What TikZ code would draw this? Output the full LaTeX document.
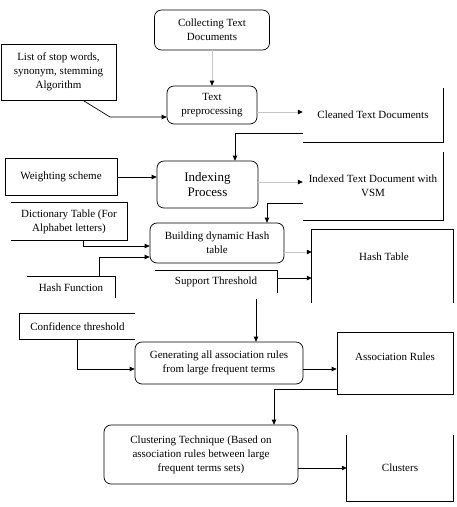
\documentclass[tikz,border=0pt]{standalone}
\usepackage{fontspec}
\setmainfont{Liberation Serif}
\usetikzlibrary{arrows.meta}
\begin{document}
\begin{tikzpicture}[x=1pt,y=-1pt,
  every node/.style={font=\fontsize{11}{14}\selectfont, inner sep=0pt, align=center},
  rbox/.style={draw, rounded corners=7pt, line width=0.7pt},
  sbox/.style={draw, line width=0.7pt},
  open/.style={},
  edge/.style={line width=0.7pt},
  arr/.style={-{Triangle[length=5pt,width=4.5pt]}, line width=0.7pt},
  garr/.style={-{Triangle[length=5pt,width=4.5pt,color=black]}, line width=0.7pt, draw=gray!45}]
\useasboundingbox (0,0) rectangle (457,507);

% boxes
\node[rbox, minimum width=115, minimum height=40] (collect) at (212,30) {Collecting Text\\Documents};
\node[sbox, minimum width=115, minimum height=56] (stop) at (58.5,72) {List of stop words,\\synonym, stemming\\Algorithm};
\node[rbox, minimum width=90, minimum height=38] (prep) at (212,105) {Text\\preprocessing};
\node[open, minimum width=140, minimum height=54] (clean) at (373,115) {Cleaned Text Documents};
\node[sbox, minimum width=112, minimum height=37] (weight) at (61,176.5) {Weighting scheme};
\node[rbox, minimum width=101, minimum height=47, font=\fontsize{13}{15}\selectfont] (index) at (207.5,184.5) {Indexing\\Process};
\node[open, minimum width=140, minimum height=68] (indexed) at (373,186) {Indexed Text Document with\\VSM};
\node[open, minimum width=116, minimum height=37] (dict) at (69,221.5) {Dictionary Table (For\\Alphabet letters)};
\node[rbox, minimum width=134, minimum height=40] (build) at (217,243) {Building dynamic Hash\\table};
\node[open, minimum width=141, minimum height=73] (hasht) at (382.5,266.5) {};
\node (hashtext) at (384,257) {Hash Table};
\node[open, minimum width=88, minimum height=21] (hashf) at (71,287.5) {Hash Function};
\node[open, minimum width=122, minimum height=22] (support) at (216,282) {Support Threshold};
\node[open, minimum width=115, minimum height=25] (conf) at (77.5,326.5) {Confidence threshold};
\node[rbox, minimum width=168, minimum height=42] (gen) at (219,363) {Generating all association rules\\from large frequent terms};
\node[sbox, minimum width=116, minimum height=62] (assoc) at (395,363) {};
\node (assoctext) at (395,357) {Association Rules};
\node[rbox, minimum width=194, minimum height=59] (clust) at (201,454.5) {Clustering Technique (Based on\\association rules between large\\frequent terms sets)};
\node[open, minimum width=106, minimum height=66] (clusters) at (400,468) {Clusters};

% partial outlines
\draw[edge] (clean.north east) -- (clean.south east) -- (clean.south west);
\draw[edge] (indexed.north east) -- (indexed.south east) -- (indexed.south west);
\draw[edge] (dict.north west) -- (dict.north east) -- (dict.south east) -- (dict.south west);
\draw[edge] (hasht.south west) -- (hasht.north west) -- (hasht.north east) -- (hasht.south east);
\draw[edge] (hashf.north west) -- (hashf.north east) -- (hashf.south east);
\draw[edge] (support.north west) -- (support.north east) -- (support.south east);
\draw[edge] (conf.north east) -- (conf.north west) -- (conf.south west) -- (conf.south east);
\draw[edge] (clusters.north west) -- (clusters.south west) -- (clusters.south east) -- (clusters.north east);

% connectors
\draw[garr] (collect.south) -- (prep.north);
\draw[arr] (stop.south -| 83,0) -- (110,117) -- (prep.west |- 0,117);
\draw[garr] (prep.east |- 0,112) -- (clean.west |- 0,112);
\draw[arr] (clean.south west |- 0,133) -- (235,133) -- (index.north -| 235,0);
\draw[arr] (weight.east |- 0,177) -- (index.west |- 0,177);
\draw[garr] (index.east |- 0,182) -- (indexed.west |- 0,182);
\draw[arr] (indexed.west |- 0,203) -- (267,203) -- (build.north -| 267,0);
\draw[arr] (dict.south -| 83,0) -- (83,246) -- (build.west |- 0,246);
\draw[arr] (hashf.north -| 99,0) -- (99,257) -- (build.west |- 0,257);
\draw[garr] (build.east |- 0,252) -- (hasht.west |- 0,252);
\draw[arr] (support.east |- 0,278) -- (hasht.west |- 0,278);
\coordinate (supdown) at (256,299);
\draw[arr] (supdown) -- (gen.north -| supdown);
\draw[arr] (conf.south -| 77,0) -- (77,369) -- (gen.west |- 0,369);
\draw[arr] (gen.east |- 0,369) -- (assoc.west |- 0,369);
\draw[arr] (assoc.west |- 0,389) -- (274,389) -- (clust.north -| 274,0);
\draw[arr] (clust.east |- 0,468) -- (clusters.west |- 0,468);
\end{tikzpicture}
\end{document}
